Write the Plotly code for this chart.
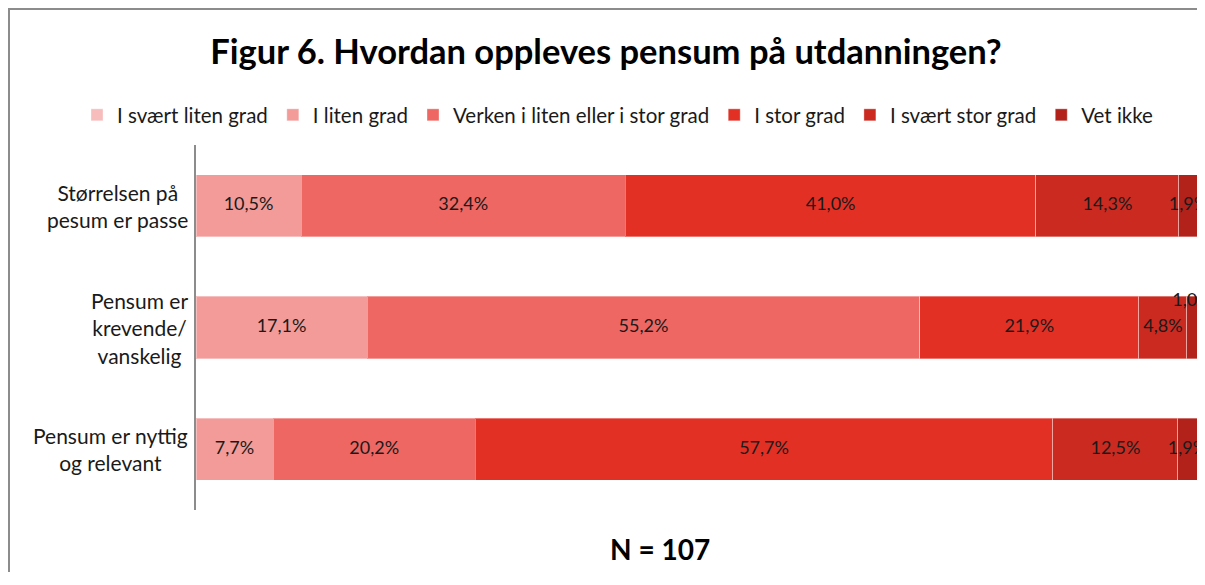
import plotly.graph_objects as go

categories = ["Størrelsen på<br>pesum er passe", "Pensum er<br>krevende/<br>vanskelig", "Pensum er nyttig<br>og relevant"]
series_names = ["I svært liten grad", "I liten grad", "Verken i liten eller i stor grad",
                "I stor grad", "I svært stor grad", "Vet ikke"]
svaert_liten = [0.0, 0.0, 0.0]
liten = [10.5, 17.1, 7.7]
verken = [32.4, 55.2, 20.2]
stor = [41.0, 21.9, 57.7]
svaert_stor = [14.3, 4.8, 12.5]
vet_ikke = [1.9, 1.0, 1.9]
values = [svaert_liten, liten, verken, stor, svaert_stor, vet_ikke]
colors = ["#F7BDBD", "#F29B98", "#EF6763", "#E33025", "#CB2A21", "#B2221B"]
n_label = "N = 107"
title = "Figur 6. Hvordan oppleves pensum på utdanningen?"

FONT = "Lato"
# page has an 8px body margin: figure coords = page coords - 8; keep figure inside window
W, H = 1189, 564
PL, PR, PT, PB = 188, 1189, 137, 502
PW, PH = PR - PL, PB - PT

def px(xp):
    return (xp - 8 - PL) / PW

def py(yp):
    return (PB - (yp - 8)) / PH

ypos = list(range(len(categories)))

fig = go.Figure()
for name, vals, col in zip(series_names, values, colors):
    fig.add_trace(go.Bar(
        y=ypos, x=vals, name=name, orientation="h", width=0.51,
        marker=dict(color=col, line=dict(color="rgba(255,255,255,0.35)", width=1)),
        hoverinfo="skip",
    ))

# data labels, centred on each segment (very small segment label lifted, as Excel does)
lab_x, lab_y, lab_t = [], [], []
for i in ypos:
    cum = 0.0
    for s, vals in enumerate(values):
        v = vals[i]
        if v > 0:
            lab_x.append(cum + v / 2)
            lab_y.append(i - 0.21 if v < 1.5 else i)
            lab_t.append(("%.1f%%" % v).replace(".", ","))
        cum += v
fig.add_trace(go.Scatter(
    x=lab_x, y=lab_y, text=lab_t, mode="text", textposition="middle center",
    textfont=dict(family=FONT, size=18, color="#1a1a1a"),
    showlegend=False, cliponaxis=False, hoverinfo="skip",
))

annotations = [dict(text=cat, xref="paper", yref="y", x=px(190), y=i, xanchor="right",
                    yanchor="middle", align="center", showarrow=False,
                    font=dict(family=FONT, size=21, color="#1a1a1a"))
               for i, cat in zip(ypos, categories)]
annotations.append(dict(text="<b>" + n_label + "</b>", xref="paper", yref="paper",
                        x=px(660), y=py(549), xanchor="center", yanchor="middle",
                        showarrow=False, font=dict(family=FONT, size=28, color="#000000")))

fig.update_layout(
    barmode="stack",
    width=W, height=H,
    margin=dict(l=PL, r=W - PR, t=PT, b=H - PB, autoexpand=False),
    paper_bgcolor="white", plot_bgcolor="white",
    font=dict(family=FONT, size=18, color="#1a1a1a"),
    title=dict(text="<b>" + title + "</b>", x=(606 - 8) / W, xref="container", xanchor="center",
               y=1 - (52 - 8) / H, yref="container", yanchor="middle",
               font=dict(family=FONT, size=34.5, color="#000000")),
    legend=dict(orientation="h", x=px(77), xanchor="left",
                y=py(115), yanchor="middle",
                font=dict(family=FONT, size=20.5, color="#1a1a1a"),
                traceorder="normal", itemwidth=30, tracegroupgap=0),
    showlegend=True,
    xaxis=dict(range=[0, 100], visible=False, fixedrange=True),
    yaxis=dict(range=[len(categories) - 0.5, -0.5], showline=True, linecolor="#8c8c8c",
               linewidth=2, ticks="", showgrid=False, zeroline=False, automargin=False,
               showticklabels=False, fixedrange=True),
    annotations=annotations,
    shapes=[
        dict(type="line", xref="paper", yref="paper", x0=px(7), x1=1.0,
             y0=py(9), y1=py(9), line=dict(color="#8c8c8c", width=2)),
        dict(type="line", xref="paper", yref="paper", x0=px(9), x1=px(9),
             y0=py(9), y1=py(600), line=dict(color="#8c8c8c", width=2)),
    ],
)

fig.write_html("out.html")
